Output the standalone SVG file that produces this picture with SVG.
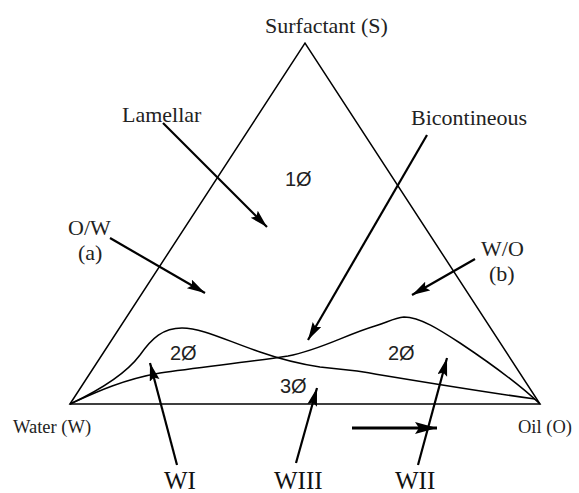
<svg xmlns="http://www.w3.org/2000/svg" width="579" height="493" viewBox="0 0 579 493">
<style>
.edge{fill:none;stroke:#000;stroke-width:1.5;stroke-linejoin:miter}
.curve{fill:none;stroke:#000;stroke-width:1.5}
.arr{fill:none;stroke:#000;stroke-width:2.2}
.big{fill:none;stroke:#000;stroke-width:3.2}
.lbl{font-family:"Liberation Serif","Times New Roman",serif;font-size:22px;fill:#222}
.corner{font-family:"Liberation Serif","Times New Roman",serif;font-size:18.5px;fill:#222}
.w{font-family:"Liberation Serif","Times New Roman",serif;font-size:25px;fill:#111}
.ph{font-family:"Liberation Sans",Arial,sans-serif;font-size:20px;fill:#222}
</style>
<defs>
<marker id="ah" markerUnits="userSpaceOnUse" markerWidth="20" markerHeight="12" refX="18" refY="5" orient="auto">
<path d="M0,0 L18,5 L0,10 L3,5 Z" fill="#000"/>
</marker>
<marker id="ahb" markerUnits="userSpaceOnUse" markerWidth="24" markerHeight="14" refX="22" refY="6" orient="auto">
<path d="M0,0 L22,6 L0,12 L4,6 Z" fill="#000"/>
</marker>
</defs>
<rect width="579" height="493" fill="#fff"/>
<g id="triangle">
<path class="edge" d="M70,404 L305,43 L540,404 Z"/>
</g>
<g id="phase-boundaries">
<path id="curve-wi" class="curve" d="M70,404 C100,390 125,375 140,355 C152,338 163,328 182,328 C202,328 225,340 260,352 C280,359 300,364 320,367 L357,371 C400,378 470,390 535,399"/>
<path id="curve-wii" class="curve" d="M70,404 C90,395 120,380 160,373 C200,367 250,362 288,356 C320,350 345,335 375,326 C388,322 394,318 404,317 C420,317 440,330 460,343 C490,363 520,385 540,404"/>
</g>
<g id="vertex-s"><text class="lbl" x="265" y="33">Surfactant (S)</text></g>
<g id="vertex-w"><text class="corner" x="13" y="433">Water (W)</text></g>
<g id="vertex-o"><text class="corner" x="518" y="433">Oil (O)</text></g>
<g id="label-lamellar"><text class="lbl" x="122" y="122">Lamellar</text></g>
<g id="label-bicontinuous"><text class="lbl" x="411" y="125">Bicontineous</text></g>
<g id="label-ow"><text class="lbl" x="68" y="235">O/W</text><text class="lbl" x="78" y="260">(a)</text></g>
<g id="label-wo"><text class="lbl" x="481" y="256">W/O</text><text class="lbl" x="489" y="281">(b)</text></g>
<g id="phase-1"><text class="ph" x="285" y="186">1Ø</text></g>
<g id="phase-2a"><text class="ph" x="170" y="360">2Ø</text></g>
<g id="phase-2b"><text class="ph" x="388" y="360">2Ø</text></g>
<g id="phase-3"><text class="ph" x="280" y="393">3Ø</text></g>
<g id="label-wi"><text class="w" x="164" y="489">WI</text></g>
<g id="label-wiii"><text class="w" x="274" y="489">WIII</text></g>
<g id="label-wii"><text class="w" x="395" y="489">WII</text></g>
<g id="connectors">
<line class="arr" x1="163" y1="123" x2="267" y2="227" marker-end="url(#ah)"/>
<line class="arr" x1="110" y1="238" x2="205" y2="293" marker-end="url(#ah)"/>
<line class="arr" x1="427" y1="135" x2="308" y2="340" marker-end="url(#ah)"/>
<line class="arr" x1="475" y1="259" x2="412" y2="295" marker-end="url(#ah)"/>
<line class="arr" x1="177" y1="465" x2="150" y2="363" marker-end="url(#ah)"/>
<line class="arr" x1="296" y1="463" x2="317" y2="388" marker-end="url(#ah)"/>
<line class="arr" x1="418" y1="465" x2="447" y2="358" marker-end="url(#ah)"/>
<line class="big" x1="352" y1="428" x2="437" y2="428" marker-end="url(#ahb)"/>
</g>
</svg>
